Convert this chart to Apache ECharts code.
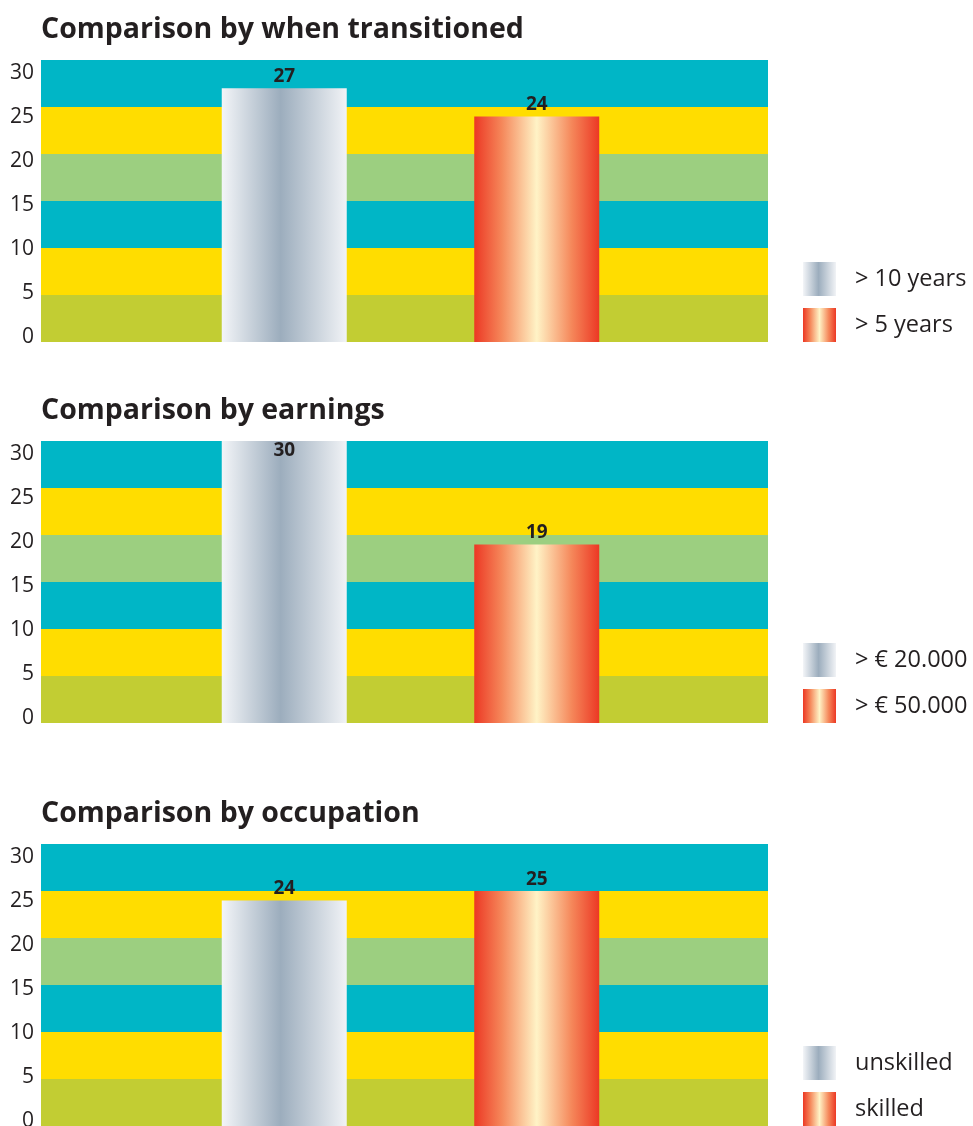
<!DOCTYPE html>
<html>
<head>
<meta charset="utf-8">
<title>Comparison charts</title>
<script src="https://cdn.jsdelivr.net/npm/echarts@6/dist/echarts.min.js"></script>
<style>
  html, body { margin: 0; padding: 0; background: #ffffff; }
  #chart { width: 973px; height: 1126px; }
</style>
</head>
<body>
<div id="chart"></div>
<script>
// ---- data ----
const panelTitles = [
  'Comparison by when transitioned',
  'Comparison by earnings',
  'Comparison by occupation'
];
const greyNames = ['> 10 years', '> € 20.000', 'unskilled'];
const redNames = ['> 5 years', '> € 50.000', 'skilled'];
const greyValues = [27, 30, 24];
const redValues = [24, 19, 25];
const tickValues = [0, 5, 10, 15, 20, 25, 30];
const bandEdges = [0, 5, 10, 15, 20, 25, 30];

// ---- style ----
const FONT = '"Open Sans", "Noto Sans", sans-serif';
const INK = '#231f20';
const bandColors = ['#c2cd33', '#ffdd00', '#00b6c6', '#9ccf80', '#ffdd00', '#00b6c6'];
const plotTops = [60, 441, 844];
const titleTops = [15, 396, 799];
const PLOT_H = 282;
const PLOT_LEFT = 41;
const BAND_W = 727;
const BAR_W = 739;
const Y_MAX = 30;

const greyFill = new echarts.graphic.LinearGradient(0, 0, 1, 0, [
  { offset: 0, color: '#f3f5f8' },
  { offset: 0.47, color: '#9cadbd' },
  { offset: 1, color: '#f1f3f6' }
]);
const redFill = new echarts.graphic.LinearGradient(0, 0, 1, 0, [
  { offset: 0, color: '#ec3824' },
  { offset: 0.22, color: '#f5875a' },
  { offset: 0.5, color: '#fff3c6' },
  { offset: 0.78, color: '#f5875a' },
  { offset: 1, color: '#ec3824' }
]);

const grid = [], xAxis = [], yAxis = [], series = [], title = [], legend = [];

function barItem(v) {
  // a bar that reaches the top of the scale keeps its label inside
  if (v >= Y_MAX) {
    return { value: v, label: { position: 'insideTop', distance: 0 } };
  }
  return v;
}

panelTitles.forEach((t, i) => {
  const gBand = grid.length;
  grid.push({ left: PLOT_LEFT, top: plotTops[i], width: BAND_W, height: PLOT_H, outerBoundsMode: 'none' });
  const gBar = grid.length;
  grid.push({ left: PLOT_LEFT, top: plotTops[i], width: BAR_W, height: PLOT_H, outerBoundsMode: 'none' });

  const xBand = xAxis.length;
  xAxis.push({ type: 'category', gridIndex: gBand, data: [''], show: false });
  const xBar = xAxis.length;
  xAxis.push({ type: 'category', gridIndex: gBar, data: [''], show: false });

  const yBand = yAxis.length;
  yAxis.push({ type: 'value', gridIndex: gBand, position: 'left', min: 0, max: Y_MAX, show: false });
  // tick labels, set on their own slightly tighter scale
  yAxis.push({
    type: 'value', gridIndex: gBand, position: 'left', offset: 0,
    min: -0.6, max: 31.45,
    axisLine: { show: false }, axisTick: { show: false }, splitLine: { show: false },
    axisLabel: {
      customValues: tickValues, margin: 7,
      color: INK, fontSize: 21, fontFamily: FONT
    }
  });
  const yBar = yAxis.length;
  yAxis.push({ type: 'value', gridIndex: gBar, position: 'left', min: 0, max: Y_MAX, show: false });

  // colored background bands
  bandColors.forEach((c, k) => {
    series.push({
      type: 'bar', xAxisIndex: xBand, yAxisIndex: yBand,
      stack: 'bands' + i, silent: true, barWidth: '100%',
      itemStyle: { color: c },
      data: [bandEdges[k + 1] - bandEdges[k]]
    });
  });

  const label = {
    show: true, position: 'top', distance: 2,
    color: INK, fontSize: 19, fontWeight: 'bold', fontFamily: FONT
  };
  series.push({
    name: greyNames[i], type: 'bar', xAxisIndex: xBar, yAxisIndex: yBar,
    barWidth: 125, barGap: '102%',
    itemStyle: { color: greyFill },
    label: label,
    data: [barItem(greyValues[i])]
  });
  series.push({
    name: redNames[i], type: 'bar', xAxisIndex: xBar, yAxisIndex: yBar,
    barWidth: 125, barGap: '102%',
    itemStyle: { color: redFill },
    label: label,
    data: [barItem(redValues[i])]
  });

  title.push({
    text: t, left: 41, top: titleTops[i], padding: 0,
    textStyle: { color: INK, fontSize: 28.5, fontWeight: 'bold', fontFamily: FONT }
  });

  legend.push({
    data: [greyNames[i], redNames[i]],
    orient: 'vertical', left: 803,
    bottom: 1126 - (plotTops[i] + PLOT_H),
    padding: 0, itemWidth: 33, itemHeight: 34, itemGap: 12,
    icon: 'rect', selectedMode: false,
    textStyle: { color: INK, fontSize: 23.5, fontFamily: FONT, padding: [0, 0, 0, 14] }
  });
});

const chart = echarts.init(document.getElementById('chart'), null, { renderer: 'canvas' });
chart.setOption({
  animation: false,
  title, legend, grid, xAxis, yAxis, series
});
</script>
</body>
</html>
